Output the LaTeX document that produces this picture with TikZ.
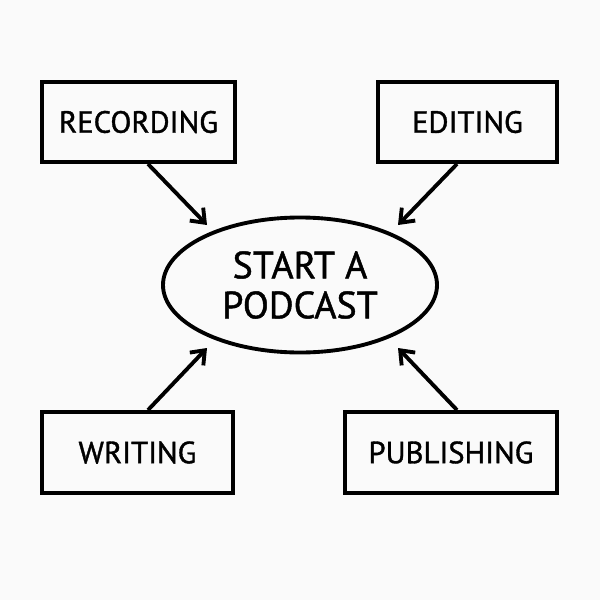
\documentclass[tikz,border=0pt]{standalone}
\usepackage{fontspec}
\setmainfont{PT Sans}[FakeBold=1.2,AutoFakeBold=1.2]
\usetikzlibrary{arrows.meta,shapes.geometric}
\begin{document}
\begin{tikzpicture}[x=0.75pt,y=-0.75pt,
  lbl/.style={font=\fontsize{23}{28}\bfseries\selectfont},
  box/.style={draw,line width=2.9pt,rectangle,inner sep=0pt,lbl},
  conn/.style={line width=2.9pt,-{Straight Barb[length=9pt,width=14pt,line width=2.9pt]}}]
\useasboundingbox[fill=white!98!black] (0,0) rectangle (600,600);
\node[box,minimum width=193*0.75pt,minimum height=80*0.75pt] (rec) at (138.5,122) {RECORDING};
\node[box,minimum width=179*0.75pt,minimum height=80*0.75pt] (edi) at (467.5,122) {EDITING};
\node[box,minimum width=191*0.75pt,minimum height=81*0.75pt] (wri) at (137.5,452.5) {WRITING};
\node[box,minimum width=212*0.75pt,minimum height=81*0.75pt] (pub) at (451,452.5) {PUBLISHING};
\node[draw,line width=2.9pt,ellipse,inner sep=0pt,minimum width=274*0.75pt,minimum height=135*0.75pt,
  align=center,font=\fontsize{28.5}{30}\bfseries\selectfont] (c) at (300,285) {START A\\PODCAST};
\coordinate (a1) at (207,225);
\coordinate (a2) at (398,225);
\coordinate (a3) at (207,348);
\coordinate (a4) at (398,348);
\draw[conn] (rec.south -| 148,0) -- (a1);
\draw[conn] (edi.south -| 457,0) -- (a2);
\draw[conn] (wri.north -| 148,0) -- (a3);
\draw[conn] (pub.north -| 457,0) -- (a4);
\end{tikzpicture}
\end{document}
